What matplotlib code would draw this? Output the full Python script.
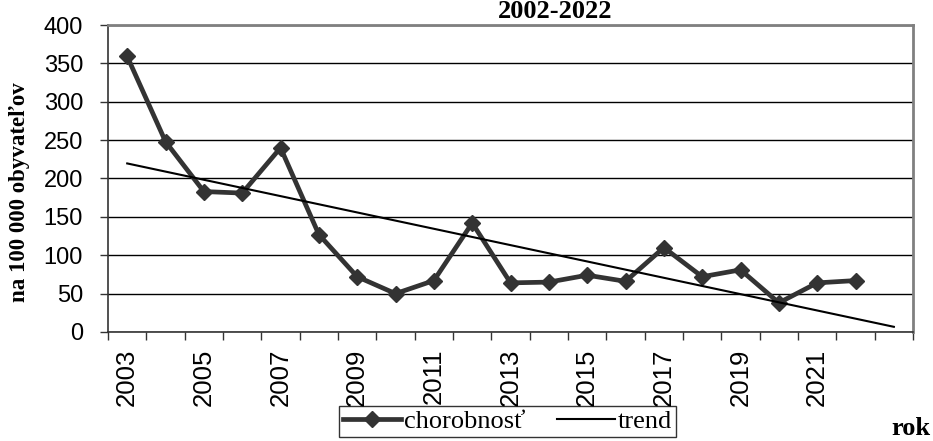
import matplotlib.pyplot as plt
import numpy as np

roky = list(range(2003, 2024))
labels = [str(r) if (r - 2003) % 2 == 0 and r < 2023 else '' for r in roky]
chorobnost = [359, 248, 183, 181, 240, 127, 72, 50, 67, 142,
              64, 65, 74, 66, 110, 72, 81, 38, 64, 67]

x = np.arange(len(chorobnost))
# linear trend with one period forward
k, q = np.polyfit(x, chorobnost, 1)
xt = np.arange(len(roky))
trend = k * xt + q

fig = plt.figure(figsize=(9.33, 4.41), dpi=100)
ax = fig.add_axes([0.1158, 0.2472, 0.9786 - 0.1158, 0.9433 - 0.2472])

ax.plot(x, chorobnost, color='#333333', linewidth=3.4, marker='D',
        markersize=8, label='chorobnosť', zorder=3)
ax.plot(xt, trend, color='black', linewidth=1.5, label='trend', zorder=4)

ax.set_xlim(-0.5, len(roky) - 0.5)
ax.set_ylim(0, 400)
ax.set_yticks(np.arange(0, 401, 50))
ax.set_xticks(xt)
ax.set_xticklabels(labels, rotation=90, fontsize=18.5, family='Liberation Sans')
ax.set_xticks(np.arange(-0.5, len(roky), 1), minor=True)
ax.tick_params(axis='x', which='major', length=0, pad=12)
ax.tick_params(axis='x', which='minor', length=6, width=1, color='#333333', direction='out')
for t in ax.get_yticklabels():
    t.set_fontsize(17)
    t.set_family('Liberation Sans')
ax.tick_params(axis='y', length=6, width=1, color='#333333', pad=12)
ax.grid(axis='y', color='black', linewidth=1)
ax.set_axisbelow(True)

for s in ['top', 'right']:
    ax.spines[s].set_color('#808080')
    ax.spines[s].set_linewidth(2)
for s in ['left', 'bottom']:
    ax.spines[s].set_color('#333333')
    ax.spines[s].set_linewidth(1.2)

fig.text(0.595, 0.999, '2002-2022', ha='center', va='top', fontsize=19,
         fontweight='bold', family='Liberation Serif')
fig.text(0.021, 0.565, 'na 100 000 obyvateľov', rotation=90, ha='center', va='center',
         fontsize=16.5, fontweight='bold', family='Liberation Serif')
fig.text(0.997, 0.028, 'rok', ha='right', va='center', fontsize=19,
         fontweight='bold', family='Liberation Serif')

leg = fig.legend(loc='center', bbox_to_anchor=(0.544, 0.044), ncol=2,
                 prop={'family': 'Liberation Serif', 'size': 19},
                 frameon=True, fancybox=False, edgecolor='black',
                 handlelength=2.2, handletextpad=0.1, columnspacing=1.2,
                 borderpad=0.15, borderaxespad=0)
leg.get_frame().set_linewidth(1)

fig.savefig('out.png', dpi=100)
